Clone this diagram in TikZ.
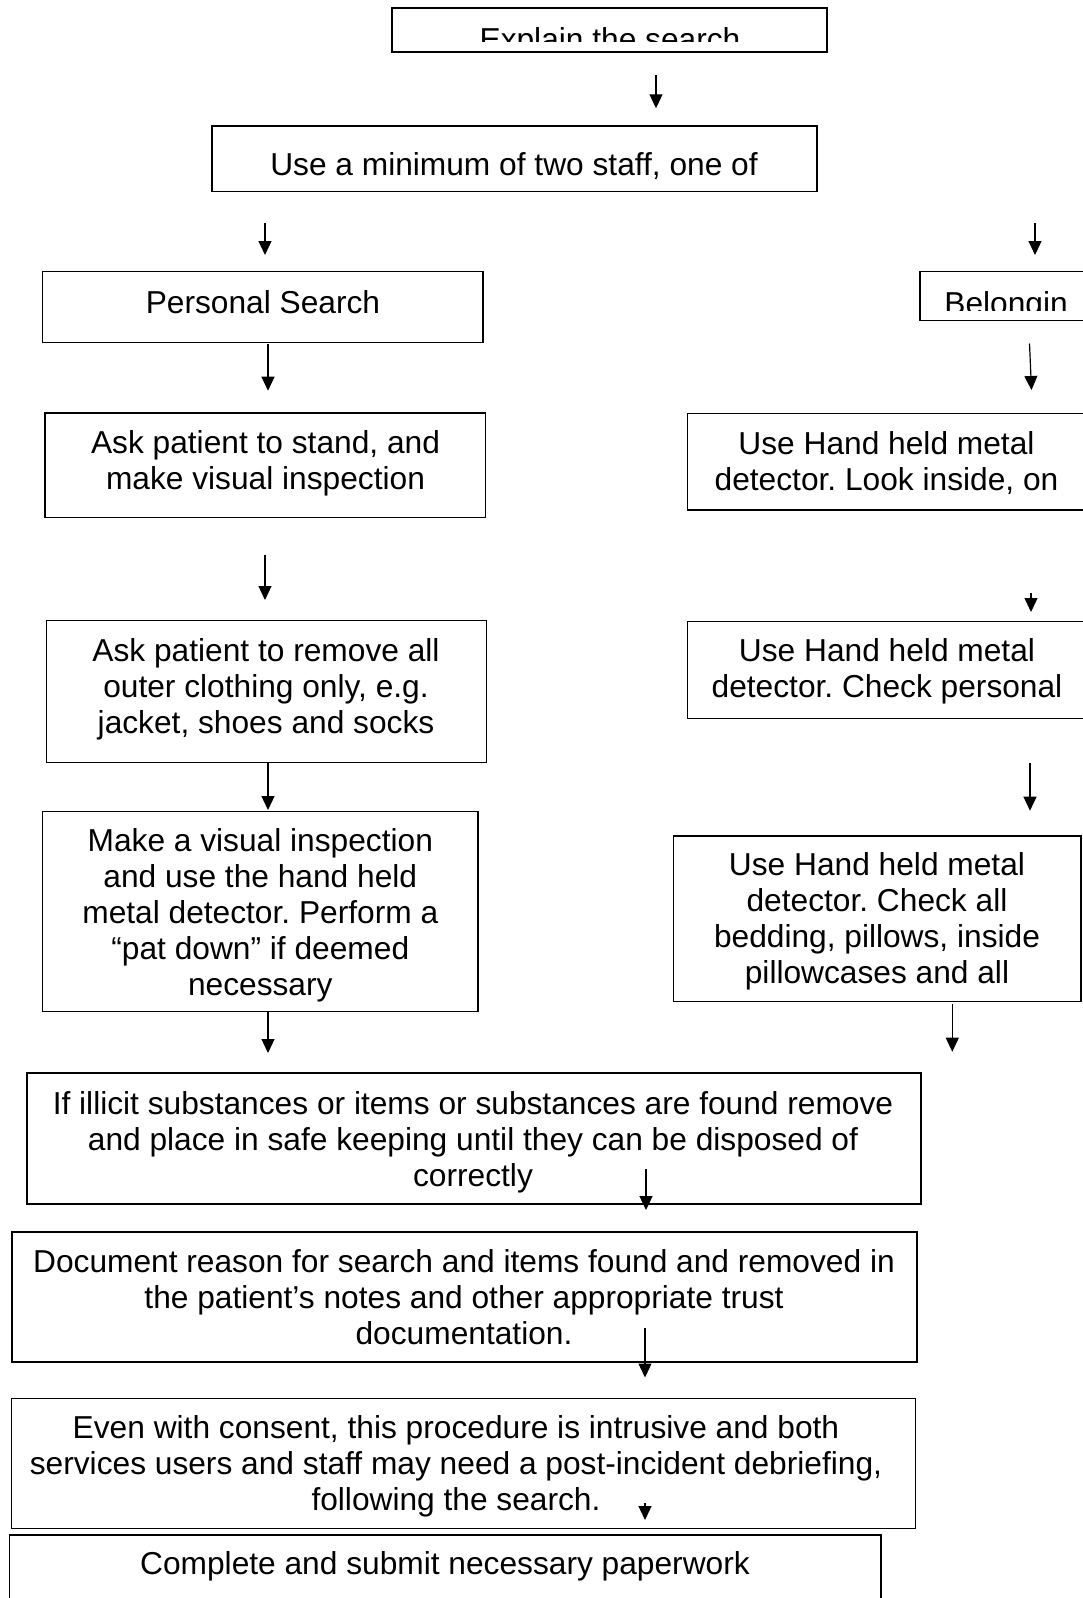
\documentclass[tikz,border=0pt]{standalone}
\usepackage{fontspec}
\setmainfont{Liberation Sans}
\usetikzlibrary{arrows.meta}
\frenchspacing
\newcommand\flowfont{\fontsize{31.7}{36}\selectfont}
\tikzset{
  box/.style={draw, line width=1.4pt, inner sep=0pt, outer sep=0pt},
  lbl/.style={inner sep=0pt, outer sep=0pt, font=\flowfont},
  para/.style={lbl, align=flush center, text width=#1},
  flow/.style={line width=1.2pt, -{Triangle[width=13pt,length=14pt]}},
}
\begin{document}
\begin{tikzpicture}[x=1pt, y=-1pt]
\useasboundingbox (0,0) rectangle (1083,1598);
\clip (0,0) rectangle (1083,1598);

% boxes
\node[box, minimum width=435pt,   minimum height=44pt]    (explain)  at (609.5,30)     {};
\node[box, minimum width=605pt,   minimum height=65.5pt]  (staff)    at (514.5,158.75) {};
\node[box, minimum width=440.3pt, minimum height=71pt]    (personal) at (262.85,307.2) {};
\node[box, minimum width=230pt,   minimum height=49pt]    (belong)   at (1035,296.2)   {};
\node[box, minimum width=440.7pt, minimum height=104.7pt] (stand)    at (265.35,465.35) {};
\node[box, minimum width=440pt,   minimum height=142pt]   (remove)   at (266.7,691.7)  {};
\node[box, minimum width=435.3pt, minimum height=200pt]   (visual)   at (260.35,911.7) {};
\node[box, minimum width=398.3pt, minimum height=96.7pt]  (look)     at (886.85,461.65) {};
\node[box, minimum width=398.3pt, minimum height=96.6pt]  (check)    at (886.85,670)   {};
\node[box, minimum width=407.7pt, minimum height=165.7pt] (bedding)  at (877.15,918.85) {};
\node[box, minimum width=894pt,   minimum height=131pt]   (illicit)  at (474,1138.5)   {};
\node[box, minimum width=905pt,   minimum height=130pt]   (document) at (464.5,1297)   {};
\node[box, minimum width=904pt,   minimum height=130pt]   (consent)  at (463.5,1463.5) {};
\node[box, minimum width=871.5pt, minimum height=95pt]    (complete) at (445.25,1582.5) {};

% texts
\begin{scope}
  \clip (392,8) rectangle (827,41);
  \node[lbl, anchor=base] (explain-t) at (610,50) {Explain the search};
\end{scope}
\node[lbl, anchor=base] (staff-t) at (514,175.4) {Use a minimum of two staff, one of};
\node[lbl, anchor=base] (personal-t) at (263,313) {Personal Search};
\begin{scope}
  \clip (920,271.7) rectangle (1083,310);
  \node[lbl, anchor=base west] (belong-t) at (944.4,314) {Belongin};
\end{scope}
\node[para=440pt, anchor=base] (stand-t) at (265.5,453)
  {Ask patient to stand, and\\make visual inspection};
\node[para=440pt, anchor=base] (remove-t) at (266,661.7)
  {Ask patient to remove all\\outer clothing only, e.g.\\jacket, shoes and socks};
\node[para=435pt, anchor=base] (visual-t) at (260.3,851.7)
  {Make a visual inspection\\and use the hand held\\metal detector. Perform a\\“pat down” if deemed\\necessary};
\node[para=398pt, anchor=base] (look-t) at (886.5,454)
  {Use Hand held metal\\detector. Look inside, on};
\node[para=398pt, anchor=base] (check-t) at (887,661.7)
  {Use Hand held metal\\detector. Check personal};
\node[para=407pt, anchor=base] (bedding-t) at (877,875)
  {Use Hand held metal\\detector. Check all\\bedding, pillows, inside\\pillowcases and all};
\node[para=894pt, anchor=base] (illicit-t) at (473,1114)
  {If illicit substances or items or substances are found remove\\and place in safe keeping until they can be disposed of\\correctly};
\node[para=905pt, anchor=base] (document-t) at (464,1272)
  {Document reason for search and items found and removed in\\the patient’s notes and other appropriate trust\\documentation.};
\node[para=904pt, anchor=base] (consent-t) at (456,1438)
  {Even with consent, this procedure is intrusive and both\\services users and staff may need a post-incident debriefing,\\following the search.\hspace*{14pt}};
\node[lbl, anchor=base] (complete-t) at (445,1574.5) {Complete and submit necessary paperwork};

% connectors
\foreach \n/\x/\ya/\yb in {
    a1/656/75/108.3,
    a2/265/223/255,
    a3/1035/223/255,
    a4/268/344/390.7,
    a6/265/555/600,
    a7/1031/593/612,
    a8/268/763/810,
    a9/1030/763/810.7,
    a10/268/1012/1053,
    a11/952.3/1004/1051.7,
    a12/646/1169/1210,
    a13/645/1328/1377.5,
    a14/645/1503/1520}{
  \coordinate (\n-s) at (\x,\ya);
  \coordinate (\n-e) at (\x,\yb);
  \draw[flow] (\n-s) -- (\n-e);
}
\coordinate (a5-s) at (1029.5,343.5);
\coordinate (a5-e) at (1031.5,390);
\draw[flow] (a5-s) -- (a5-e);
\end{tikzpicture}
\end{document}
